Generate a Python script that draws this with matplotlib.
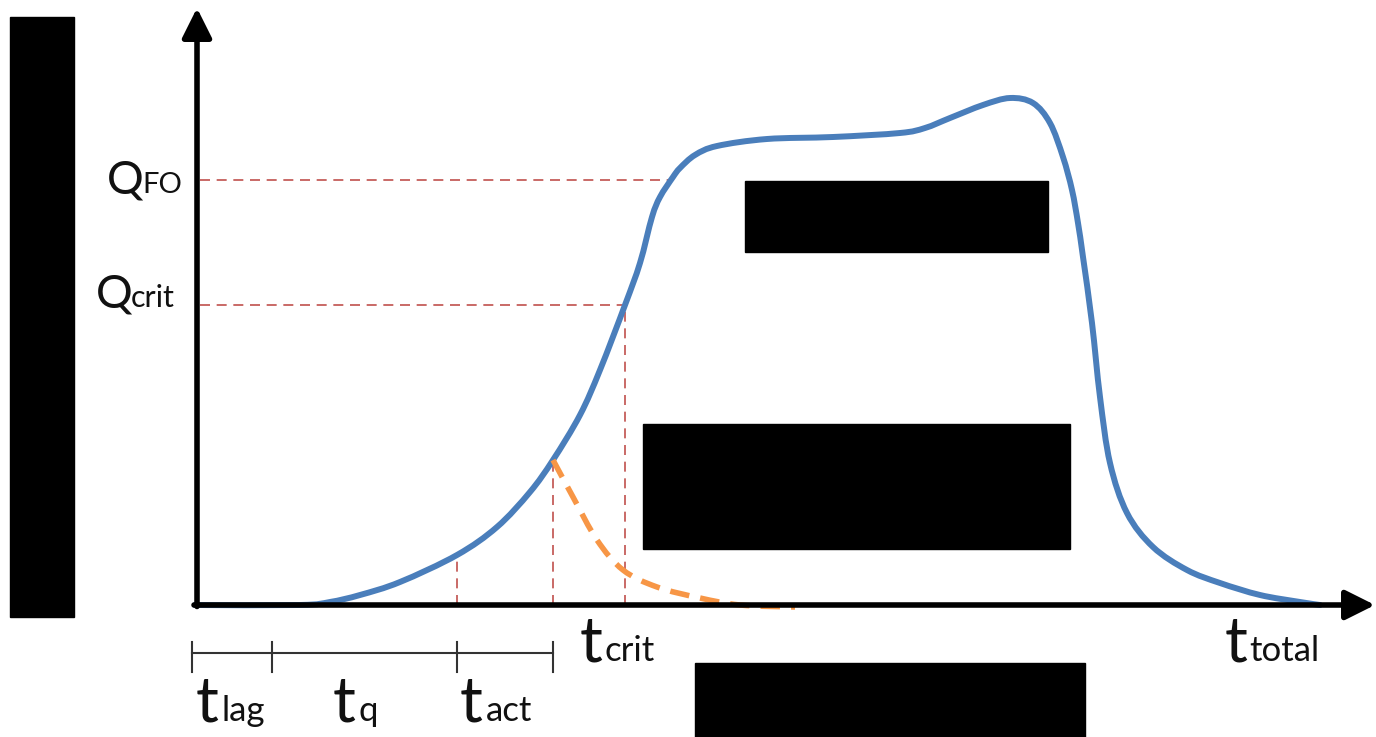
import matplotlib
matplotlib.use('Agg')
import matplotlib.pyplot as plt
from matplotlib.patches import Rectangle, PathPatch
from matplotlib.path import Path

# schematic values (arbitrary units)
t_curve = [0, 10.5, 13.5, 16.5, 20.5, 26.2, 30.2, 33.5, 35.8, 38.5,
           40.5, 43.0, 44.5, 45.7, 46.5, 47.8, 48.5, 50.0, 52.2, 57.2, 63.8,
           70.5, 73.0, 75.5, 78.8, 81.5, 83.8, 85.5, 86.8, 87.7, 88.3, 88.8,
           89.7, 90.5, 91.5, 93.2, 95.8, 99.2, 102.5, 106.5, 110.5, 112.5]
Q_curve = [0, 0, 0.6, 2.0, 4.6, 10.0, 15.6, 22.6, 29.0, 38.0,
           47.0, 60.0, 68.4, 77.6, 81.6, 85.6, 87.4, 90.0, 91.8, 93.2, 93.6,
           94.4, 95.4, 97.4, 100.0, 101.4, 100.4, 96.4, 89.6, 83.0, 76.4, 69.6,
           56.4, 41.6, 28.4, 18.4, 11.6, 7.0, 4.4, 2.0, 0.6, 0.0]

t_decay = [35.8, 37.8, 40.2, 42.8, 46.2, 50.5, 54.5, 60.0]
Q_decay = [29.0, 21.6, 13.0, 7.0, 3.6, 1.4, 0.0, -0.4]

Q_FO = 85.0
Q_crit = 60.0
t_FO = 47.5
t_crit = 43.0
t_marks = [-0.3, 7.7, 26.2, 35.8]        # t_lag / t_q / t_act bracket
Q_at_q = 10.0
Q_at_act = 29.0

W, H = 1376, 737
fig = plt.figure(figsize=(W / 100, H / 100), dpi=100)
ax = fig.add_axes([0, 0, 1, 1])
ax.set_xlim(-19.5, 118.1)
ax.set_ylim(-26.4, 121.0)
ax.axis('off')

blue = '#4a7ebb'
orange = '#f79646'
red = '#c0504d'
ink = '#111111'


def smooth_path(xs, ys):
    # smoothed line like a spreadsheet chart: bezier segments through the points
    pts = list(zip(xs, ys))
    n = len(pts)
    verts = [pts[0]]
    codes = [Path.MOVETO]
    for i in range(n - 1):
        p0 = pts[max(i - 1, 0)]
        p1 = pts[i]
        p2 = pts[i + 1]
        p3 = pts[min(i + 2, n - 1)]
        c1 = (p1[0] + (p2[0] - p0[0]) / 6, p1[1] + (p2[1] - p0[1]) / 6)
        c2 = (p2[0] - (p3[0] - p1[0]) / 6, p2[1] - (p3[1] - p1[1]) / 6)
        verts += [c1, c2, p2]
        codes += [Path.CURVE4] * 3
    return Path(verts, codes)


# guide lines
red_kw = dict(color=red, lw=1.2, dashes=(6, 4), zorder=2)
ax.plot([0.5, t_FO], [Q_FO, Q_FO], **red_kw)
ax.plot([0.5, t_crit], [Q_crit, Q_crit], **red_kw)
ax.plot([t_marks[2], t_marks[2]], [0, Q_at_q], **red_kw)
ax.plot([t_marks[3], t_marks[3]], [0, Q_at_act], **red_kw)
ax.plot([t_crit, t_crit], [0, Q_crit], **red_kw)

# curves
ax.add_patch(PathPatch(smooth_path(t_curve, Q_curve), fill=False, edgecolor=blue,
                       lw=4.3, capstyle='round', zorder=3))
ax.add_patch(PathPatch(smooth_path(t_decay, Q_decay), fill=False, edgecolor=orange,
                       lw=4.0, linestyle=(0, (3.5, 2)), zorder=3))

# axes arrows
arr = dict(arrowstyle='-|>,head_length=0.9,head_width=0.45', lw=4, color='black',
           shrinkA=0, shrinkB=0, mutation_scale=20)
ax.annotate('', xy=(118.0, 0), xytext=(-0.1, 0), arrowprops=arr, zorder=5)
ax.annotate('', xy=(0.2, 119.4), xytext=(0.2, -0.3), arrowprops=arr, zorder=5)

# time bracket
ax.plot([t_marks[0], t_marks[-1]], [-9.6, -9.6], color='#333333', lw=1.5)
for tm in t_marks:
    ax.plot([tm, tm], [-7.4, -13.4], color='#333333', lw=1.5)

# labels (pixel placement)
font = 'Lato'


def label(x, y, main, sub, x_sub, big, small):
    fig.text(x / W, 1 - y / H, main, fontsize=big, family=font, color=ink,
             ha='left', va='baseline')
    fig.text(x_sub / W, 1 - y / H, sub, fontsize=small, family=font, color=ink,
             ha='left', va='baseline')


label(107, 193, 'Q', 'FO', 142, 33, 21)
label(96, 307, 'Q', 'crit', 131, 33, 22)
label(196, 721, 't', 'lag', 222, 46, 25)
label(333, 721, 't', 'q', 359, 46, 25)
label(460, 721, 't', 'act', 486, 46, 25)
label(580, 661, 't', 'crit', 604, 46, 25)
label(1225, 661, 't', 'total', 1249, 46, 25)

# redaction boxes
for (x0, y0, x1, y1) in [(10, 17, 74, 617), (745, 181, 1048, 252),
                         (643, 424, 1070, 549), (695, 663, 1085, 737)]:
    fig.patches.append(Rectangle((x0 / W, 1 - y1 / H), (x1 - x0) / W, (y1 - y0) / H,
                                 transform=fig.transFigure, color='black', zorder=10))

fig.savefig('out.png', dpi=100)
